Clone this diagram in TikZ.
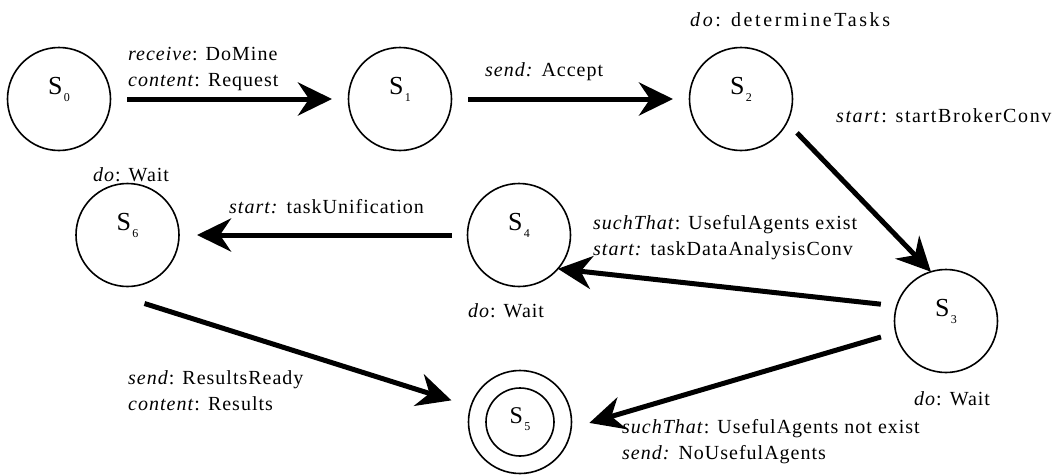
\documentclass[tikz,border=0pt]{standalone}
\usepackage{fontspec}
\setmainfont{Liberation Serif}
\newfontfamily\labelfont[LetterSpace=5]{Liberation Serif}
\usetikzlibrary{arrows.meta}

% state name with a lowered small index
\newcommand\statename[1]{S\kern1.5pt\raisebox{-7pt}{\fontsize{12}{12}\selectfont #1}}
% two-line transition label, baseline on the first line
\newcommand\twolines[2]{\vtop{\baselineskip=26pt\hbox{#1}\hbox{#2}}}

\begin{document}
\begin{tikzpicture}[x=1pt, y=-1pt,
  state/.style={circle, draw, line width=1.6pt, minimum size=103pt, inner sep=0pt, outer sep=0pt},
  statelbl/.style={anchor=base, inner sep=0pt, font=\fontsize{26}{26}\selectfont},
  edgelbl/.style={anchor=base west, inner sep=0pt, font=\labelfont\fontsize{20}{26}\selectfont},
  trans/.style={line width=5pt, -{Stealth[length=34pt, width=33pt, inset=11pt]}}]

\useasboundingbox (0,0) rectangle (1055,474);

% states
\node[state] (S0) at (59,99) {};
\node[state] (S1) at (400,99) {};
\node[state] (S2) at (741,99) {};
\node[state] (S3) at (946,321) {};
\node[state] (S4) at (519,235) {};
\node[state] (S6) at (127.5,235) {};
\node[state] (S5) at (520,422) {};
\draw[line width=1.6pt] (S5.center) circle[radius=34];

\node[statelbl] (S0t) at ([yshift=5pt]S0.center) {\statename{0}};
\node[statelbl] (S1t) at ([yshift=5pt]S1.center) {\statename{1}};
\node[statelbl] (S2t) at ([yshift=5pt]S2.center) {\statename{2}};
\node[statelbl] (S3t) at ([yshift=5pt]S3.center) {\statename{3}};
\node[statelbl] (S4t) at ([yshift=5pt]S4.center) {\statename{4}};
\node[statelbl] (S6t) at ([yshift=5pt]S6.center) {\statename{6}};
\node[statelbl, font=\fontsize{24}{24}\selectfont] (S5t) at ([yshift=-1pt]S5.center) {\statename{5}};

% transitions
\draw[trans, shorten <=16.5pt, shorten >=16.5pt] (S0) -- (S1);
\draw[trans, shorten <=16.5pt, shorten >=16.5pt] (S1) -- (S2);
\draw[trans, shorten <=14.6pt] (S2.-27) -- (S3.107);
\draw[trans, shorten <=16pt] (S3.163) -- (S4.-41);
\draw[trans, shorten <=15.5pt, shorten >=19pt] (S3.193) -- (S5.-7);
\draw[trans, shorten <=15.5pt, shorten >=18pt] (S4) -- (S6);
\draw[trans, shorten >=20.4pt] ([xshift=17pt,yshift=-17pt]S6.south) -- (S5);

% labels
\node[edgelbl] (L01) at (128,60) {\twolines{\textit{receive}: DoMine}{\textit{content}: Request}};
\node[edgelbl] (L12) at (485,76) {\textit{send:} Accept};
\node[edgelbl] (D2) at (690,26) {\addfontfeatures{LetterSpace=13}\textit{do}: determineTasks};
\node[edgelbl] (L23) at (836,122) {\addfontfeatures{LetterSpace=8}\textit{start}: startBrokerConv};
\node[edgelbl] (D6) at (93,181) {\textit{do}: Wait};
\node[edgelbl] (L46) at (229,213) {\textit{start:} taskUnification};
\node[edgelbl] (L34) at (593,229) {\twolines{\textit{suchThat}: UsefulAgents exist}{\textit{start:} taskDataAnalysisConv}};
\node[edgelbl] (D4) at (468,317) {\textit{do}: Wait};
\node[edgelbl] (D3) at (914,405) {\textit{do}: Wait};
\node[edgelbl] (L35) at (622,433) {\twolines{\textit{suchThat}: UsefulAgents not exist}{\textit{send:} NoUsefulAgents}};
\node[edgelbl] (L65) at (128,384) {\twolines{\textit{send}: ResultsReady}{\textit{content}: Results}};
\end{tikzpicture}
\end{document}
